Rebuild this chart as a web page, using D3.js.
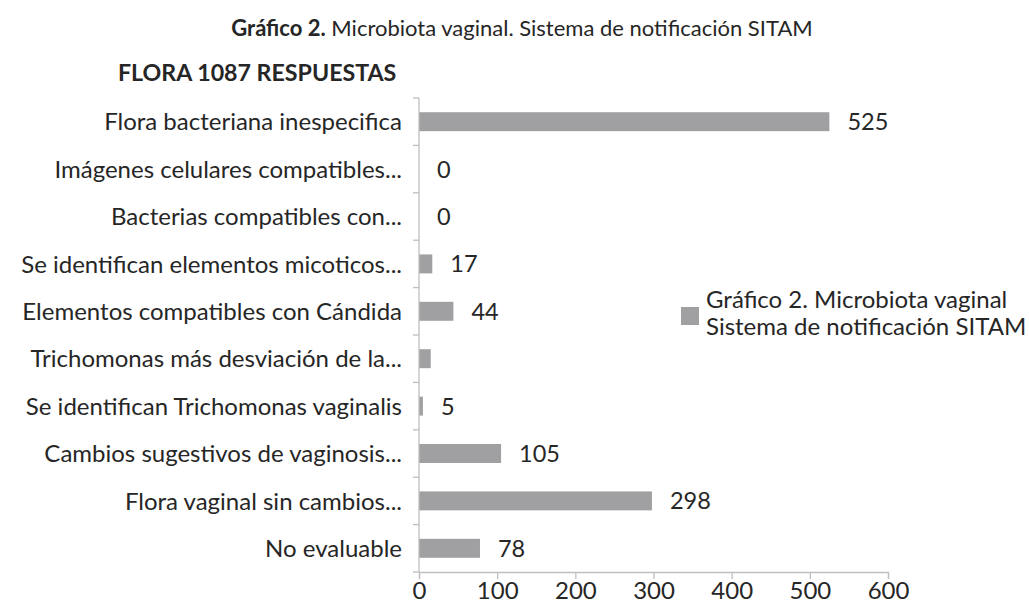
<!DOCTYPE html>
<html>
<head>
<meta charset="utf-8">
<script src="https://cdn.jsdelivr.net/npm/d3@7"></script>
<style>
  body { margin: 0; background: #fff; }
  text { font-family: Lato, "Open Sans", sans-serif; fill: #262626; }
</style>
</head>
<body>
<svg id="svg1" width="1029" height="607"></svg>
<script>
var categories = [
  "Flora bacteriana inespecifica",
  "Imágenes celulares compatibles...",
  "Bacterias compatibles con...",
  "Se identifican elementos micoticos...",
  "Elementos compatibles con Cándida",
  "Trichomonas más desviación de la...",
  "Se identifican Trichomonas vaginalis",
  "Cambios sugestivos de vaginosis...",
  "Flora vaginal sin cambios...",
  "No evaluable"
];
var values = [525, 0, 0, 17, 44, 15, 5, 105, 298, 78];
// the Trichomonas label is not shown in the original
var valueLabels = ["525", "0", "0", "17", "44", null, "5", "105", "298", "78"];
var xTicks = [0, 100, 200, 300, 400, 500, 600];
var legendLines = ["Gráfico 2. Microbiota vaginal", "Sistema de notificación SITAM"];

var margin = { top: 98, left: 419, right: 141, bottom: 35 };
var svg = d3.select('#svg1');
var innerWidth = 1029 - margin.left - margin.right;
var innerHeight = 607 - margin.top - margin.bottom;
var barColor = '#a0a0a3';
var axisColor = '#bfbfbf';

var rows = categories.map((c, i) => ({ cat: c, value: values[i], label: valueLabels[i] }));

var xScale = d3.scaleLinear().domain([0, 600]).range([0, innerWidth]);
var yScale = d3.scaleBand().domain(categories).range([0, innerHeight]).paddingInner(0.6).paddingOuter(0.3);

var g = svg.append('g').attr('transform', `translate(${margin.left},${margin.top})`);

// title
var title = svg.append('text')
  .attr('x', 522).attr('y', 36)
  .attr('text-anchor', 'middle')
  .style('font-size', '22px');
title.append('tspan').style('font-weight', 'bold').text('Gráfico 2.');
title.append('tspan').text(' Microbiota vaginal. Sistema de notificación SITAM');

svg.append('text')
  .attr('x', 118).attr('y', 81)
  .style('font-size', '23.2px')
  .style('font-weight', 'bold')
  .text('FLORA 1087 RESPUESTAS');

// bars
g.selectAll('.bar')
  .data(rows)
  .enter()
  .append('rect')
  .attr('class', 'bar')
  .attr('x', xScale(0))
  .attr('y', d => yScale(d.cat))
  .attr('width', d => xScale(d.value) - xScale(0))
  .attr('height', yScale.bandwidth())
  .style('fill', barColor);

g.selectAll('.vlabel')
  .data(rows.filter(d => d.label !== null))
  .enter()
  .append('text')
  .attr('class', 'vlabel')
  .attr('x', d => xScale(d.value) + 18)
  .attr('y', d => yScale(d.cat) + yScale.bandwidth() / 2)
  .attr('dy', '0.36em')
  .style('font-size', '23.5px')
  .text(d => d.label);

// y axis: ticks at band boundaries
var yAxisG = g.append('g');
yAxisG.append('line')
  .attr('x1', 0).attr('x2', 0).attr('y1', 0).attr('y2', innerHeight)
  .style('stroke', axisColor).style('stroke-width', 1.3);
var boundaries = d3.range(categories.length + 1).map(i => i * innerHeight / categories.length);
yAxisG.selectAll('.ytick')
  .data(boundaries)
  .enter()
  .append('line')
  .attr('x1', -6).attr('x2', 0)
  .attr('y1', d => d).attr('y2', d => d)
  .style('stroke', axisColor).style('stroke-width', 1.3);
yAxisG.selectAll('.ylabel')
  .data(categories)
  .enter()
  .append('text')
  .attr('x', -17)
  .attr('y', d => yScale(d) + yScale.bandwidth() / 2)
  .attr('dy', '0.36em')
  .attr('text-anchor', 'end')
  .style('font-size', '24px')
  .text(d => d);

// x axis
var xAxisG = g.append('g')
  .attr('transform', `translate(0,${innerHeight})`)
  .call(d3.axisBottom(xScale).tickValues(xTicks).tickSize(7).tickPadding(3));
xAxisG.select('.domain').style('stroke', axisColor).style('stroke-width', 1.3);
xAxisG.selectAll('.tick line').style('stroke', axisColor).style('stroke-width', 1.3);
xAxisG.selectAll('.tick text')
  .style('font-size', '24px')
  .style('font-family', 'Lato, sans-serif')
  .style('fill', '#262626');

// legend
var legend = svg.append('g').attr('transform', 'translate(681,307)');
legend.append('rect')
  .attr('width', 18).attr('height', 18)
  .style('fill', barColor);
legend.selectAll('text')
  .data(legendLines)
  .enter()
  .append('text')
  .attr('x', 25)
  .attr('y', (d, i) => 1 + i * 27)
  .style('font-size', '24px')
  .text(d => d);
</script>
</body>
</html>
